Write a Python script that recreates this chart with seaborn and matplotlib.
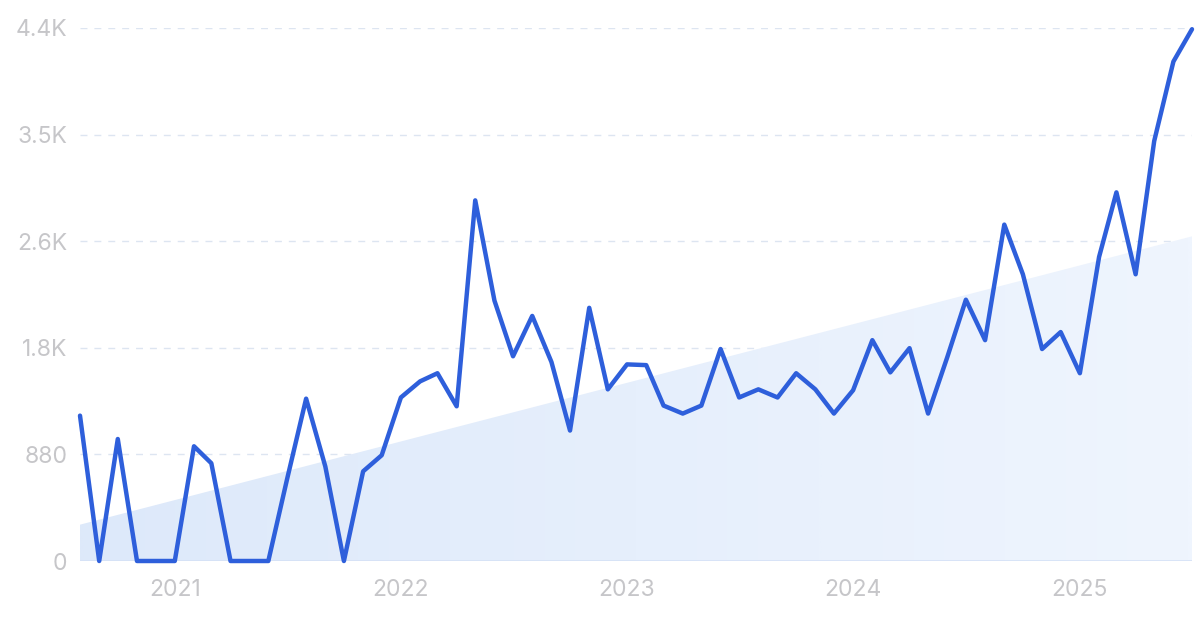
import numpy as np
import pandas as pd
import matplotlib
matplotlib.use("Agg")
import matplotlib.pyplot as plt
import seaborn as sns

# monthly search volume, Aug 2020 .. Jul 2025
start_month = "2020-08-01"
volume = [1200, 0, 1007, 0, 0, 0, 947, 807, 0, 0,
          0, 670, 1340, 780, 0, 740, 873, 1350, 1483, 1550,
          1277, 2977, 2150, 1690, 2023, 1643, 1077, 2090, 1417, 1623,
          1617, 1283, 1217, 1283, 1750, 1350, 1417, 1350, 1550, 1417,
          1217, 1410, 1823, 1557, 1757, 1217, 1683, 2157, 1823, 2777,
          2367, 1750, 1890, 1550, 2510, 3043, 2367, 3467, 4123, 4390]

# trend band (start / end values)
trend_values = [300, 2680]

ytick_values = [0, 880, 1760, 2640, 3520, 4400]
ytick_labels = ["0", "880", "1.8K", "2.6K", "3.5K", "4.4K"]
year_labels = ["2021", "2022", "2023", "2024", "2025"]

months = pd.date_range(start_month, periods=len(volume), freq="MS")
df = pd.DataFrame({"month": months, "volume": volume})

sns.set_theme(style="white")
plt.rcParams["font.family"] = ["Inter", "DejaVu Sans"]

fig = plt.figure(figsize=(12, 6.33), dpi=100)
ax = fig.add_axes([80 / 1200, 1 - 561 / 633, 1112 / 1200, 533 / 633])

# trend area with a soft left-to-right gradient
tx = [months[0], months[-1]]
poly = ax.fill_between(tx, [0, 0], trend_values, color="none", lw=0, zorder=1)
x0, x1 = matplotlib.dates.date2num(months[0]), matplotlib.dates.date2num(months[-1])
grad = np.linspace(0, 1, 1024).reshape(1, -1)
cmap = matplotlib.colors.LinearSegmentedColormap.from_list("trend", ["#dde9fa", "#eff5fe"])
img = ax.imshow(grad, cmap=cmap, aspect="auto", extent=[x0, x1, 0, max(trend_values)],
                origin="lower", zorder=1, interpolation="bilinear")
img.set_clip_path(poly.get_paths()[0], transform=ax.transData)

# dashed grid lines
for v in ytick_values[1:]:
    ax.axhline(v, color="#dde5f1", lw=1.0, ls=(0, (5, 5)), zorder=0)
ax.axhline(0, color="#d5e1f6", lw=1.2, zorder=2)

sns.lineplot(data=df, x="month", y="volume", ax=ax, color="#2e5fdb", lw=3.2,
             zorder=3, clip_on=False)

ax.set_xlim(months[0], months[-1])
ax.set_ylim(0, 4400)
ax.set_yticks(ytick_values)
ax.set_yticklabels(ytick_labels)
ax.set_xticks(pd.to_datetime([f"{y}-01-01" for y in year_labels]))
ax.set_xticklabels(year_labels)
ax.tick_params(axis="both", length=0, labelsize=16.5, labelcolor="#c6c6c9")
ax.tick_params(axis="x", pad=13)
ax.tick_params(axis="y", pad=9)
ax.set_xlabel("")
ax.set_ylabel("")
for s in ax.spines.values():
    s.set_visible(False)
ax.grid(False)

fig.savefig("out.png", dpi=100, facecolor="white")
